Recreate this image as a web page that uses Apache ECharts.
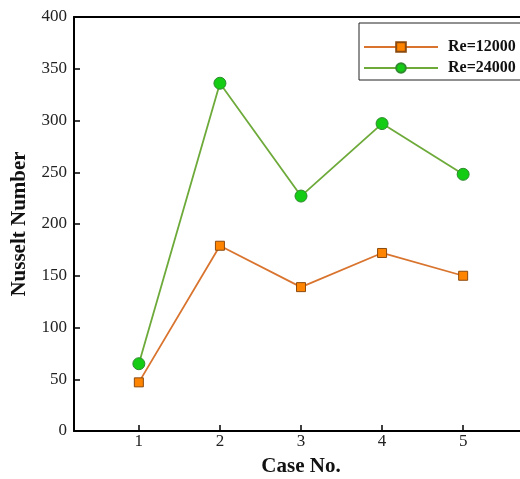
<!DOCTYPE html>
<html>
<head>
<meta charset="utf-8">
<script src="https://cdn.jsdelivr.net/npm/echarts@6/dist/echarts.min.js"></script>
<style>html,body{margin:0;padding:0;background:#fff;}#c{width:520px;height:479px;}</style>
</head>
<body>
<div id="c"></div>
<script>
var cases = [1, 2, 3, 4, 5];
var re12000 = [47, 179, 139, 172, 150];
var re24000 = [65, 336, 227, 297, 248];
var yTicks = [0, 50, 100, 150, 200, 250, 300, 350, 400];

var chart = echarts.init(document.getElementById('c'));
var font = '"Liberation Serif", "Times New Roman", serif';
chart.setOption({
  animation: false,
  backgroundColor: '#fff',
  grid: { left: 74, top: 17, bottom: 48, right: -8, show: false, containLabel: false, outerBoundsMode: 'none' },
  legend: {
    orient: 'vertical', left: 359, top: 23,
    borderColor: '#222', borderWidth: 1, padding: [16, 20, 4, 4],
    itemWidth: 74, itemHeight: 12, itemGap: 5,
    textStyle: { fontFamily: font, fontWeight: 'bold', fontSize: 16, color: '#111', padding: [0, 0, 0, 5] },
    data: ['Re=12000', 'Re=24000']
  },
  xAxis: [{
    type: 'value', min: 0.2, max: 5.8,
    name: 'Case No.', nameLocation: 'middle', nameGap: 25,
    nameTextStyle: { fontFamily: font, fontWeight: 'bold', fontSize: 21, color: '#111' },
    axisLine: { show: true, lineStyle: { color: '#000', width: 2 } },
    axisTick: { show: true, inside: true, length: 6, lineStyle: { color: '#000', width: 1.5 }, customValues: cases },
    axisLabel: { fontFamily: font, fontSize: 17, color: '#222', margin: 2, customValues: cases },
    splitLine: { show: false }
  }, {
    type: 'value', min: 0.2, max: 5.8, position: 'top',
    axisLine: { show: true, lineStyle: { color: '#000', width: 2 } },
    axisTick: { show: false }, axisLabel: { show: false }, splitLine: { show: false }
  }],
  yAxis: {
    type: 'value', min: 0, max: 400, interval: 50,
    name: 'Nusselt Number', nameLocation: 'middle', nameGap: 44,
    nameTextStyle: { fontFamily: font, fontWeight: 'bold', fontSize: 21, color: '#111' },
    axisLine: { show: true, lineStyle: { color: '#000', width: 2 } },
    axisTick: { show: true, inside: true, length: 6, lineStyle: { color: '#000', width: 1.5 } },
    axisLabel: { fontFamily: font, fontSize: 17, color: '#222', margin: 7, customValues: yTicks },
    splitLine: { show: false }
  },
  series: [
    {
      name: 'Re=12000', type: 'line',
      data: cases.map(function (c, i) { return [c, re12000[i]]; }),
      symbol: 'rect', symbolSize: 9,
      lineStyle: { color: '#D9742F', width: 1.8 },
      itemStyle: { color: '#FF8400', borderColor: '#8A4A10', borderWidth: 1 }
    },
    {
      name: 'Re=24000', type: 'line',
      data: cases.map(function (c, i) { return [c, re24000[i]]; }),
      symbol: 'circle', symbolSize: 12,
      lineStyle: { color: '#6DAA3A', width: 1.8 },
      itemStyle: { color: '#14CC14', borderColor: '#2F8A2F', borderWidth: 1 }
    }
  ]
});
</script>
</body>
</html>
